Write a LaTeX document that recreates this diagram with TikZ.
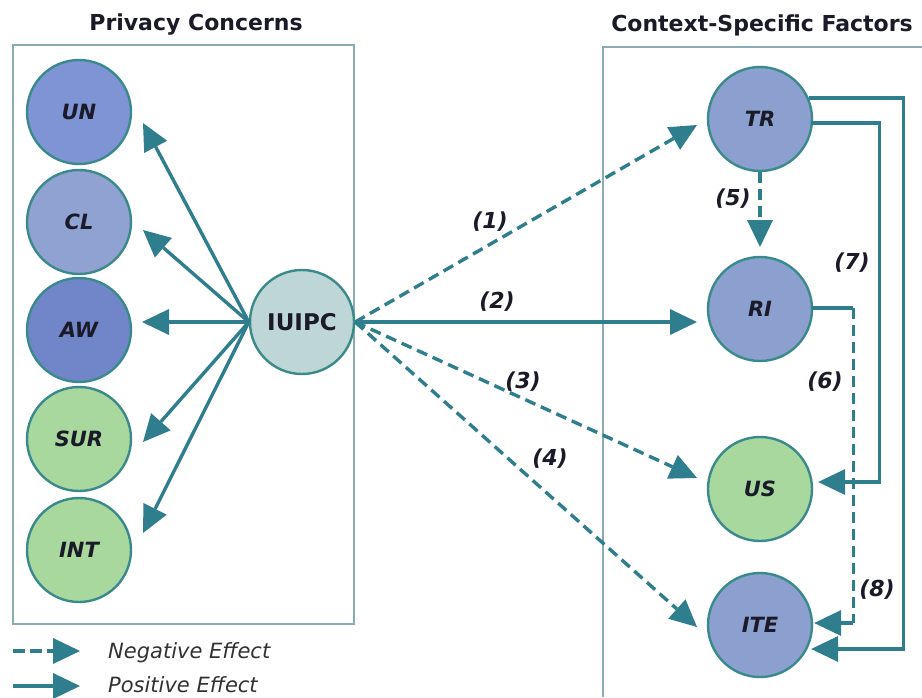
\documentclass[tikz,border=0pt]{standalone}
\usepackage{fontspec}
\setmainfont{DejaVu Sans}
\usetikzlibrary{arrows.meta,calc}

\definecolor{edgec}{RGB}{47,126,142}
\definecolor{circline}{RGB}{58,138,140}
\definecolor{boxc}{RGB}{140,172,180}
\definecolor{fillUN}{RGB}{127,148,212}
\definecolor{fillCL}{RGB}{143,162,210}
\definecolor{fillAW}{RGB}{112,134,200}
\definecolor{fillGreen}{RGB}{168,216,158}
\definecolor{fillIU}{RGB}{190,214,214}
\definecolor{fillCtx}{RGB}{140,160,207}
\definecolor{labeltext}{RGB}{26,26,40}
\definecolor{legendtext}{RGB}{50,50,50}

\begin{document}
\begin{tikzpicture}[x=1pt,y=-1pt,
  heading/.style={font=\fontsize{22}{22}\selectfont\bfseries, text=labeltext},
  construct/.style={circle, draw=circline, line width=2.4pt, minimum size=104pt,
    inner sep=0pt, font=\fontsize{21}{21}\selectfont\bfseries\itshape, text=labeltext},
  boxline/.style={draw=boxc, line width=1.4pt},
  conn/.style={draw=edgec, line width=3.4pt},
  posarrow/.style={conn, -{Triangle[length=27pt,width=26pt,line width=0pt]}},
  negarrow/.style={posarrow, dash pattern=on 11pt off 6pt},
  effect/.style={font=\fontsize{22}{22}\selectfont\bfseries\itshape, text=labeltext},
  legendlabel/.style={font=\fontsize{21}{21}\selectfont\itshape, text=legendtext,
    anchor=base west, inner sep=0pt}
]
\useasboundingbox (0,0) rectangle (922,697);

% group frames and headings
\draw[boxline] (13,45) rectangle (354,624);
\draw[boxline] (922,47) -- (603,47) -- (603,697);
\node[heading] (pchead) at (196,25) {Privacy Concerns};
\node[heading] (cfhead) at (762,25) {Context-Specific Factors};

% privacy concern dimensions
\node[construct, fill=fillUN]    (un)  at (79,112) {UN};
\node[construct, fill=fillCL]    (cl)  at (79,222) {CL};
\node[construct, fill=fillAW]    (aw)  at (79,330) {AW};
\node[construct, fill=fillGreen] (sur) at (79,439) {SUR};
\node[construct, fill=fillGreen] (int) at (79,550) {INT};

% central construct
\node[construct, fill=fillIU, font=\fontsize{23}{23}\selectfont\bfseries] (iuipc) at (302,322) {IUIPC};

% context-specific factors
\node[construct, fill=fillCtx]   (tr)  at (760,119) {TR};
\node[construct, fill=fillCtx]   (ri)  at (760,309) {RI};
\node[construct, fill=fillGreen] (us)  at (760,489) {US};
\node[construct, fill=fillCtx]   (ite) at (760,625) {ITE};

% IUIPC -> privacy concern dimensions
\draw[posarrow] (iuipc.west) -- ($(un)+(64,11)$);
\draw[posarrow] (iuipc.west) -- ($(cl)+(64,8)$);
\draw[posarrow] (iuipc.west) -- ($(aw)+(63,-8)$);
\draw[posarrow] (iuipc.west) -- ($(sur)+(64,3)$);
\draw[posarrow] (iuipc.west) -- ($(int)+(64,-17)$);

% IUIPC -> context-specific factors
\draw[negarrow] (iuipc.east) -- ($(tr)+(-63,6)$);
\draw[posarrow] (iuipc.east) -- ($(ri)+(-63,13)$);
\draw[negarrow] (iuipc.east) -- ($(us)+(-63,-11)$);
\draw[negarrow] (iuipc.east) -- ($(ite)+(-63,2)$);

% TR -> RI
\draw[negarrow] (tr.south) -- ($(ri)+(0,-62)$);

% TR -> US
\draw[posarrow] ($(tr.east)+(-2,4)$) -| ($(us.east)+(66,-7)$) -- ($(us.east)+(5,-7)$);
% TR -> ITE
\draw[posarrow] ($(tr.east)+(-4,-21)$) -| ($(ite.east)+(90,24)$) -- ($(ite.east)+(-2,24)$);
% RI -> ITE
\coordinate (riA) at ($(ri.east)+(-1,-1)$);
\coordinate (riB) at ($(ri.east)+(40,-1)$);
\coordinate (riC) at ($(ite.east)+(40,-2)$);
\coordinate (riD) at ($(ite.east)+(1,-2)$);
\draw[conn, line cap=butt] (riA) -- (riB);
\draw[conn, dash pattern=on 11pt off 6pt] (riB) -- (riC);
\draw[posarrow] (riC) -- (riD);

% effect numbers
\node[effect] (e1) at (490,222) {(1)};
\node[effect] (e2) at (497,302) {(2)};
\node[effect] (e3) at (523,382) {(3)};
\node[effect] (e4) at (550,459) {(4)};
\node[effect] (e5) at (733,199) {(5)};
\node[effect] (e6) at (825,382) {(6)};
\node[effect] (e7) at (852,263) {(7)};
\node[effect] (e8) at (877,590) {(8)};

% legend
\coordinate (negA) at (13,651);
\coordinate (negB) at (80,651);
\coordinate (posA) at (13,686);
\coordinate (posB) at (80,686);
\draw[negarrow, dash pattern=on 12pt off 5pt] (negA) -- (negB);
\draw[posarrow] (posA) -- (posB);
\node[legendlabel] (neglab) at (108,658) {Negative Effect};
\node[legendlabel] (poslab) at (108,692) {Positive Effect};
\end{tikzpicture}
\end{document}
